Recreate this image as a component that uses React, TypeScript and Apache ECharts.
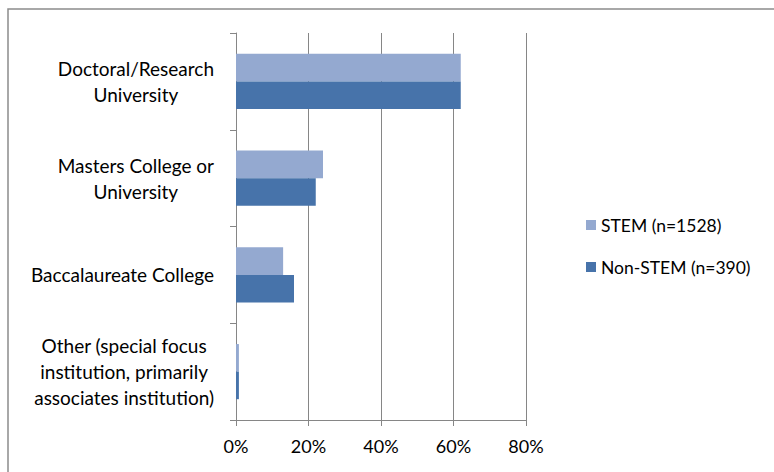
import React, { useEffect, useRef } from "react";
import * as echarts from "echarts";

const categories = [
  "Doctoral/Research\nUniversity",
  "Masters College or\nUniversity",
  "Baccalaureate College",
  "Other (special focus\ninstitution, primarily\nassociates institution)",
];
const stemValues = [62, 24, 13, 0.8];
const nonStemValues = [62, 22, 16, 0.8];
const seriesNames = ["STEM (n=1528)", "Non-STEM (n=390)"];
const xTicks = { min: 0, max: 80, interval: 20 };

const FONT = "Lato, 'Open Sans', sans-serif";

export default function App() {
  const ref = useRef<HTMLDivElement>(null);
  useEffect(() => {
    if (!ref.current) return;
    const chart = echarts.init(ref.current, null, { renderer: "svg" });
    chart.setOption({
      animation: false,
      backgroundColor: "#ffffff",
      textStyle: { fontFamily: FONT },
      graphic: [
        {
          type: "rect",
          shape: { x: 8, y: 9, width: 800, height: 500 },
          style: { fill: "none", stroke: "#8c8c8c", lineWidth: 1.5 },
          silent: true,
          z: -1,
        },
      ],
      grid: { left: 236, right: 248, top: 33, bottom: 52, containLabel: false },
      legend: {
        orient: "vertical",
        left: 581,
        top: 211,
        itemWidth: 10,
        itemHeight: 10,
        itemGap: 24,
        icon: "rect",
        textStyle: { fontFamily: FONT, fontSize: 17.5, color: "#000" },
        data: seriesNames,
      },
      xAxis: {
        type: "value",
        min: xTicks.min,
        max: xTicks.max,
        interval: xTicks.interval,
        axisLine: { show: true, lineStyle: { color: "#868686" } },
        axisTick: { show: true, length: 6, lineStyle: { color: "#868686" } },
        splitLine: { show: true, lineStyle: { color: "#868686", width: 1 } },
        axisLabel: {
          formatter: "{value}%",
          color: "#000",
          fontSize: 18,
          fontFamily: FONT,
          margin: 17,
        },
      },
      yAxis: {
        type: "category",
        inverse: true,
        data: categories,
        axisLine: { show: true, lineStyle: { color: "#868686" } },
        axisTick: { show: true, length: 6, lineStyle: { color: "#868686" } },
        axisLabel: {
          margin: 22,
          align: "right",
          color: "#000",
          fontSize: 19,
          fontFamily: FONT,
          formatter: (v: string) =>
            v
              .split("\n")
              .map((l) => `{c|${l}}`)
              .join("\n"),
          rich: {
            c: {
              align: "center",
              fontSize: 19,
              fontFamily: FONT,
              color: "#000",
              lineHeight: 26,
            },
          },
        },
      },
      series: [
        {
          name: seriesNames[0],
          type: "bar",
          data: stemValues,
          barGap: "0%",
          barCategoryGap: "43%",
          itemStyle: { color: "#94a9d0" },
        },
        {
          name: seriesNames[1],
          type: "bar",
          data: nonStemValues,
          barGap: "0%",
          barCategoryGap: "43%",
          itemStyle: { color: "#4773aa" },
        },
      ],
    });
    return () => chart.dispose();
  }, []);
  return <div ref={ref} style={{ width: 774, height: 472, position: "absolute", left: 0, top: 0 }} />;
}
